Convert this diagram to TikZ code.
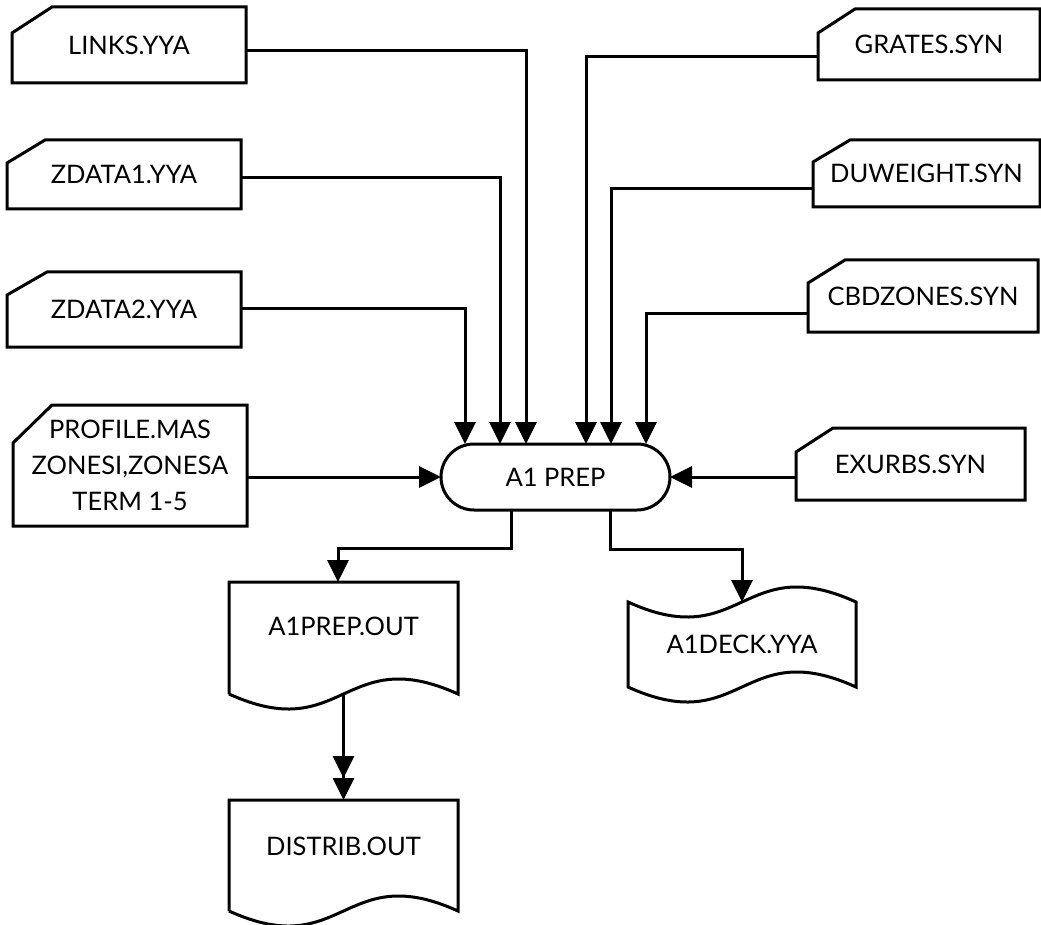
\documentclass[tikz,border=0pt]{standalone}
\usepackage{fontspec}
\setmainfont{Lato}
\usetikzlibrary{arrows.meta,shapes.misc,calc}
\begin{document}
\begin{tikzpicture}[x=1pt,y=-1pt,line width=3pt,
  every node/.style={font=\fontsize{25.5}{36}\selectfont,inner sep=0pt,outer sep=0pt,align=center},
  >={Triangle[length=22pt,width=21pt]},
  dbl/.style={-{Triangle[length=22pt,width=21pt]Triangle[length=22pt,width=21pt]}},
  term/.style={draw,rounded rectangle},
  outline/.style={line join=miter}]
\useasboundingbox (0,0) rectangle (1041,925);

% input cards
\node[minimum width=234pt,minimum height=76pt] (links) at (129,45) {LINKS.YYA};
\node[minimum width=234pt,minimum height=69pt] (zdA) at (124,174.5) {ZDATA1.YYA};
\node[minimum width=234pt,minimum height=75pt] (zdB) at (124,309.5) {ZDATA2.YYA};
\node[minimum width=234pt,minimum height=121pt] (prof) at (130,465.5) {PROFILE.MAS\\ZONESI,ZONESA\\TERM 1-5};
\node[minimum width=222pt,minimum height=71pt] (grates) at (929,44.5) {GRATES.SYN};
\node[minimum width=227pt,minimum height=67pt] (duw) at (926.5,173.5) {DUWEIGHT.SYN};
\node[minimum width=230pt,minimum height=72pt] (cbd) at (923,296) {CBDZONES.SYN};
\node[minimum width=229pt,minimum height=72pt] (exu) at (910.5,464) {EXURBS.SYN};

\foreach \n/\cx/\cy in {links/40/26,zdA/38/23,zdB/40/23,prof/39/38,grates/37/24,duw/37/22,cbd/37/23,exu/37/24}
  \draw[outline] ([xshift=\cx pt]\n.north west) -- (\n.north east) -- (\n.south east)
    -- (\n.south west) -- ([yshift=-\cy pt]\n.north west) -- cycle;

% process
\node[term,minimum width=229pt,minimum height=66pt] (term) at (555.5,477) {A1 PREP};

% output documents
\node[minimum width=229pt,minimum height=112pt,text height=17pt,text depth=22pt] (out1) at (343.5,638) {A1PREP.OUT};
\node[minimum width=229pt,minimum height=111pt,text height=17pt,text depth=17pt] (distrib) at (343.5,855.5) {DISTRIB.OUT};
\node[minimum width=228pt,minimum height=85pt] (deck) at (742,644.5) {A1DECK.YYA};

\foreach \n in {out1,distrib}
  \draw[outline] (\n.south west) -- (\n.north west) -- (\n.north east) -- (\n.south east)
    .. controls ($(\n.south)+(0,-52)$) and ($(\n.south)+(0,52)$) .. (\n.south west);
\draw[outline] (deck.north west) .. controls ($(deck.north)+(0,52)$) and ($(deck.north)+(0,-52)$) .. (deck.north east)
  -- (deck.south east) .. controls ($(deck.south)+(0,-52)$) and ($(deck.south)+(0,52)$) .. (deck.south west) -- cycle;

% connectors in
\draw[->] ([yshift=-6pt]links.east) -| ([xshift=-29.5pt]term.north);
\draw[->] ([yshift=-3.5pt]zdA.east) -| ([xshift=-55.5pt]term.north);
\draw[->] ([yshift=1.5pt]zdB.east) -| ([xshift=-90.5pt]term.north);
\draw[->] ([yshift=-12.5pt]grates.west) -| ([xshift=30.5pt]term.north);
\draw[->] ([yshift=-15.5pt]duw.west) -| ([xshift=55.5pt]term.north);
\draw[->] ([yshift=-17pt]cbd.west) -| ([xshift=90.5pt]term.north);
\draw[->] (prof.east |- term.west) -- (term.west);
\draw[->] (exu.west |- term.east) -- (term.east);

% connectors out
\draw[->] ([xshift=-44.5pt]term.south) -- ++(0,38) -| ([xshift=-5.5pt]out1.north);
\draw[->] ([xshift=54.5pt]term.south) -- ++(0,39) -| (deck.north);
\draw[dbl] (out1.south) -- (distrib.north);
\end{tikzpicture}
\end{document}
